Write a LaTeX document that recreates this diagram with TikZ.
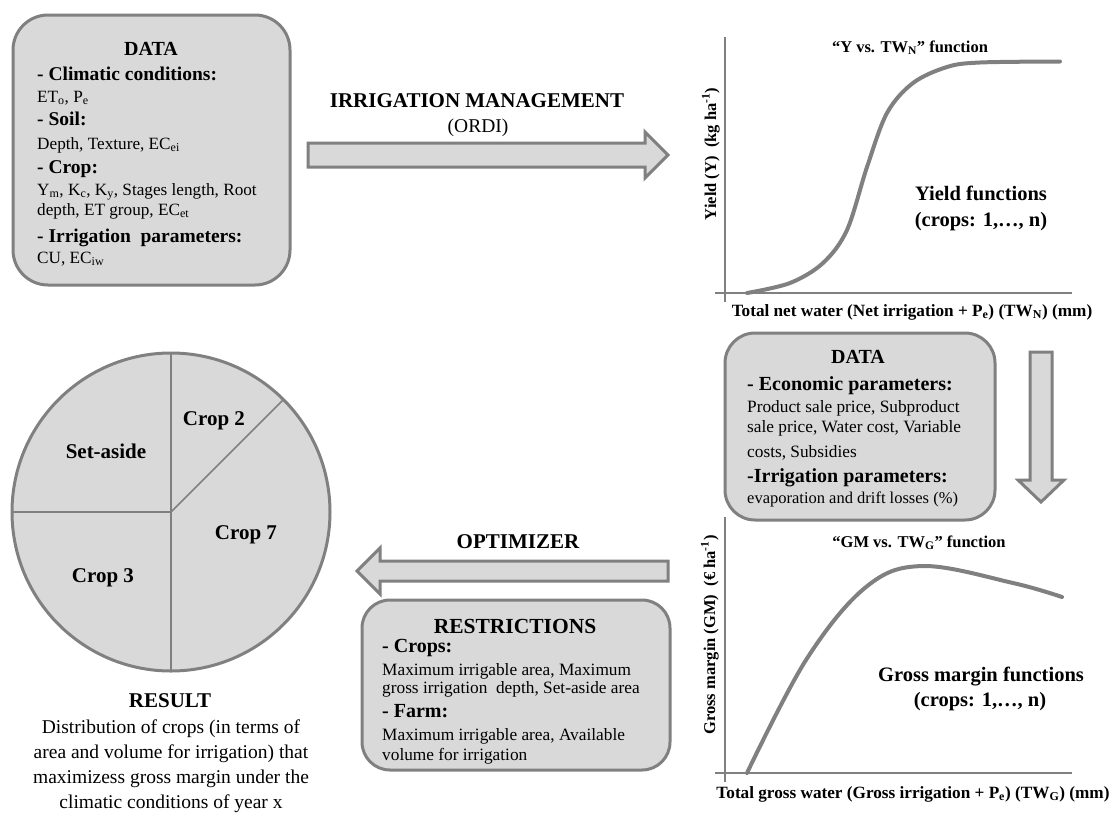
\documentclass[tikz,border=0pt]{standalone}
\usepackage{fontspec}
\setmainfont{Liberation Serif}
\usetikzlibrary{calc}
\definecolor{boxgray}{RGB}{217,217,217}
\definecolor{linegray}{RGB}{128,128,128}
\newcommand\hd{\fontsize{19.5}{20}\selectfont\bfseries}
\newcommand\bd{\fontsize{17.2}{20}\selectfont}
\begin{document}
\begin{tikzpicture}[x=1pt,y=-1pt,
  rbox/.style={draw=linegray, fill=boxgray, line width=3pt, rounded corners=#1, outer sep=0pt, inner sep=0pt},
  barrow/.style={draw=linegray, fill=boxgray, line width=3pt, line join=miter},
  axisline/.style={draw=linegray, line width=2.5pt},
  curveline/.style={draw=linegray, line width=4pt, line cap=round},
  pieline/.style={draw=linegray, line width=1.5pt},
  ttl/.style={font=\fontsize{20}{22}\selectfont\bfseries, anchor=base, inner sep=0pt},
  lbl/.style={anchor=base, inner sep=0pt},
  txt/.style={anchor=base west, inner sep=0pt},
  pielbl/.style={anchor=base, inner sep=0pt, font=\fontsize{21}{22}\selectfont\bfseries},
  chartttl/.style={anchor=base, inner sep=0pt, font=\fontsize{16.5}{18}\selectfont\bfseries},
  axlbl/.style={anchor=base, inner sep=0pt, font=\fontsize{17.2}{18}\selectfont\bfseries},
  big/.style={anchor=base, inner sep=0pt, font=\fontsize{20.5}{22}\selectfont\bfseries},
]
\useasboundingbox (0,0) rectangle (1114,812);

% ---------- DATA box 1 ----------
\node[rbox=35pt, minimum width=277pt, minimum height=270pt] (data1) at (151.5,150) {};
\node[ttl] (d1title) at (151,55) {DATA};
\node[txt] (d1text) at (37,80) {\parbox[t]{250pt}{\raggedright\bd
{\hd - Climatic conditions:}\\[2pt]
ET\textsubscript{o}, P\textsubscript{e}\\[3pt]
{\hd - Soil:}\\[4pt]
Depth, Texture, EC\textsubscript{ei}\\[4pt]
{\hd - Crop:}\\[2pt]
Y\textsubscript{m}, K\textsubscript{c}, K\textsubscript{y}, Stages length, Root\\[0pt]
depth, ET group, EC\textsubscript{et}\\[7pt]
{\hd - Irrigation\ \ parameters:}\\[1pt]
CU, EC\textsubscript{iw}}};

% ---------- Irrigation management arrow ----------
\node[ttl, font=\fontsize{21}{22}\selectfont\bfseries] (irrlbl) at (477,107) {IRRIGATION MANAGEMENT};
\node[lbl, font=\fontsize{19.5}{20}\selectfont] (ordi) at (478,132) {(ORDI)};
\coordinate (a1s) at (308,155);
\coordinate (a1e) at (668,155);
\draw[barrow] ($(a1s)+(0,-12)$) -- ($(a1e)+(-23,-12)$) -- ($(a1e)+(-23,-23)$) -- (a1e)
  -- ($(a1e)+(-23,23)$) -- ($(a1e)+(-23,12)$) -- ($(a1s)+(0,12)$) -- cycle;

% ---------- Yield chart ----------
\coordinate (y1t) at (725,37);
\coordinate (y1b) at (725,302);
\coordinate (x1l) at (715,293);
\coordinate (x1r) at (1072,293);
\draw[axisline] (y1t) -- (y1b);
\draw[axisline] (x1l) -- (x1r);
\draw[curveline] plot[smooth, tension=0.55] coordinates {(747,293) (790,283) (823,263) (847,230) (867,167) (887,113) (913,83) (947,67) (980,62.5) (1060,61.5)};
\node[chartttl] (yttl) at (910,52) {“Y vs. TW\textsubscript{N}” function};
\node[big] (yf1) at (981,200) {Yield functions};
\node[big] (yf2) at (981,226) {(crops: 1,…, n)};
\node[axlbl] (yx) at (912,316) {Total net water (Net irrigation + P\textsubscript{e}) (TW\textsubscript{N}) (mm)};
\node[chartttl, rotate=90] (yy) at (716,154) {Yield (Y)\ \ (kg ha\textsuperscript{-1})};

% ---------- DATA box 2 ----------
\node[rbox=30pt, minimum width=270pt, minimum height=187pt] (data2) at (860,426.5) {};
\node[ttl] (d2title) at (858,363) {DATA};
\node[txt] (d2text) at (747,390) {\parbox[t]{245pt}{\raggedright\fontsize{17.3}{20}\selectfont
{\fontsize{20}{20}\selectfont\bfseries - Economic parameters:}\\[2pt]
Product sale price, Subproduct\\[0pt]
sale price, Water cost, Variable\\[5pt]
costs, Subsidies\\[5pt]
{\fontsize{20}{20}\selectfont\bfseries -Irrigation parameters:}\\[1pt]
{\fontsize{16.5}{20}\selectfont evaporation and drift losses (\%)}}};

% ---------- down arrow ----------
\coordinate (a2s) at (1041,352);
\coordinate (a2e) at (1041,502);
\draw[barrow] ($(a2s)+(-11,0)$) -- ($(a2e)+(-11,-22)$) -- ($(a2e)+(-23,-22)$) -- (a2e)
  -- ($(a2e)+(23,-22)$) -- ($(a2e)+(11,-22)$) -- ($(a2s)+(11,0)$) -- cycle;

% ---------- Gross margin chart ----------
\coordinate (y2t) at (725,517);
\coordinate (y2b) at (725,782);
\coordinate (x2l) at (715,773);
\coordinate (x2r) at (1072,773);
\draw[axisline] (y2t) -- (y2b);
\draw[axisline] (x2l) -- (x2r);
\draw[curveline] plot[smooth, tension=0.6] coordinates {(747,773) (806,660) (866,587) (923,566) (1013,583) (1062,597)};
\node[chartttl] (gttl) at (919,547) {“GM vs. TW\textsubscript{G}” function};
\node[big] (gf1) at (981,681) {Gross margin functions};
\node[big] (gf2) at (980,706) {(crops: 1,…, n)};
\node[axlbl] (gx) at (913,798) {Total gross water (Gross irrigation + P\textsubscript{e}) (TW\textsubscript{G}) (mm)};
\node[chartttl, rotate=90] (gy) at (715,635) {Gross margin (GM)\ \ (€ ha\textsuperscript{-1})};

% ---------- Optimizer arrow ----------
\node[ttl, font=\fontsize{21}{22}\selectfont\bfseries] (optlbl) at (518,548) {OPTIMIZER};
\coordinate (a3s) at (668,571);
\coordinate (a3e) at (357,571);
\draw[barrow] ($(a3s)+(0,-10)$) -- ($(a3e)+(23,-10)$) -- ($(a3e)+(23,-23)$) -- (a3e)
  -- ($(a3e)+(23,23)$) -- ($(a3e)+(23,10)$) -- ($(a3s)+(0,10)$) -- cycle;

% ---------- Restrictions box ----------
\node[rbox=28pt, minimum width=308pt, minimum height=170pt] (restr) at (516,685) {};
\node[ttl, font=\fontsize{21.5}{22}\selectfont\bfseries] (rtitle) at (515,633) {RESTRICTIONS};
\node[txt] (rtext) at (382,652) {\parbox[t]{290pt}{\raggedright\fontsize{17.3}{18}\selectfont
{\fontsize{20}{18}\selectfont\bfseries - Crops:}\\[5pt]
Maximum irrigable area, Maximum\\[0pt]
gross irrigation\ \ depth, Set-aside area\\[6pt]
{\fontsize{20}{18}\selectfont\bfseries - Farm:}\\[5pt]
Maximum irrigable area, Available\\[2pt]
volume for irrigation}};

% ---------- Pie ----------
\node[circle, draw=linegray, fill=boxgray, line width=3pt, minimum size=318pt, inner sep=0pt, outer sep=0pt] (pie) at (171,512) {};
\draw[pieline] (pie.north) -- (pie.south);
\draw[pieline] (pie.west) -- (pie.center);
\draw[pieline] (pie.center) -- (pie.45);
\node[pielbl] (c2) at (214,425) {Crop 2};
\node[pielbl] (sa) at (106,458) {Set-aside};
\node[pielbl] (c7) at (246,539) {Crop 7};
\node[pielbl] (c3) at (103,582) {Crop 3};

% ---------- Result ----------
\node[ttl, font=\fontsize{21}{22}\selectfont\bfseries] (result) at (170,707) {RESULT};
\node[lbl] (resulttext) at (171,733) {\parbox[t]{340pt}{\centering\fontsize{19.5}{25}\selectfont
Distribution of crops (in terms of\\
area and volume for irrigation) that\\
maximizess gross margin under the\\
climatic conditions of year x}};
\end{tikzpicture}
\end{document}
